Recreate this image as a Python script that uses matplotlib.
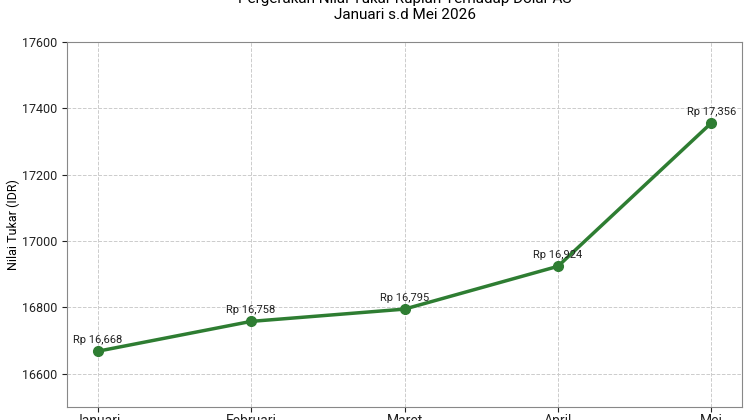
import matplotlib
matplotlib.use("Agg")
import matplotlib.pyplot as plt

months = ["Januari", "Februari", "Maret", "April", "Mei"]
rates = [16668, 16758, 16795, 16924, 17356]
yticks = [16600, 16800, 17000, 17200, 17400, 17600]

plt.rcParams['font.family'] = ['Roboto', 'DejaVu Sans']

fig = plt.figure(figsize=(7.5, 4.2), dpi=100)
ax = fig.add_axes([67/750, 13/420, 675/750, 365/420])

x = list(range(len(months)))
ax.plot(x, rates, color="#2e7d32", linewidth=2.5, marker="o", markersize=7)
for xi, v in zip(x, rates):
    ax.annotate(f"Rp {v:,}", (xi, v), textcoords="offset points", xytext=(0, 4.5),
                ha="center", va="bottom", fontsize=8, color="#222222")

ax.set_xticks(x)
ax.set_xticklabels(months, fontsize=10)
ax.set_yticks(yticks)
ax.set_yticklabels([str(t) for t in yticks], fontsize=9)
ax.set_ylim(16500, 17600)
ax.set_ylabel("Nilai Tukar (IDR)", fontsize=9, labelpad=1)
ax.grid(True, linestyle="--", color="#cccccc", linewidth=0.7)
for s in ax.spines.values():
    s.set_color("#888888")
ax.tick_params(colors="#222222", length=3.5)
ax.tick_params(axis="x", pad=1.5)
for t in ax.get_xticklines() + ax.get_yticklines():
    t.set_color("#888888")

fig.text(405/750, 1 - 15/420, "Januari s.d Mei 2026", ha="center", va="center", fontsize=11)
fig.text(405/750, 1 - (-1)/420, "Pergerakan Nilai Tukar Rupiah Terhadap Dolar AS", ha="center", va="center", fontsize=11)

fig.savefig("out.png", dpi=100)
